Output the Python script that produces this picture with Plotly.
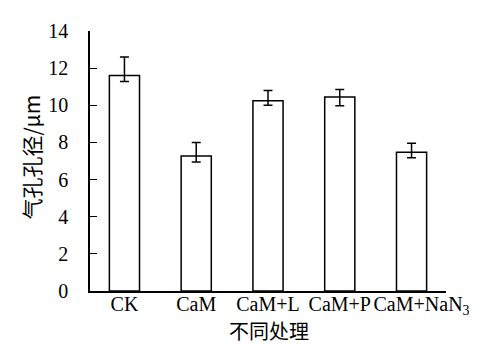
import plotly.graph_objects as go

nb = "&nbsp;" * 4
categories = ["CK", "CaM", "CaM+L", "CaM+P", nb + "CaM+NaN<sub>3</sub>"]
values = [11.6, 7.27, 10.25, 10.45, 7.47]
err_plus = [1.0, 0.72, 0.55, 0.4, 0.48]
err_minus = [0.32, 0.32, 0.25, 0.48, 0.3]
y_ticks = [0, 2, 4, 6, 8, 10, 12, 14]

W, H = 477, 344
L, R, T, B = 82, 39, 14, 61
pw, ph = W - L - R, H - T - B

serif = "Liberation Serif, Times New Roman, serif"
cjk = "Noto Sans CJK SC, sans-serif"

fig = go.Figure(go.Bar(
    x=list(range(len(categories))), y=values, width=0.42,
    marker=dict(color="white", line=dict(color="black", width=1.5)),
    error_y=dict(type="data", symmetric=False, array=err_plus, arrayminus=err_minus,
                 color="black", thickness=1.5, width=4.5),
))

fig.update_layout(
    width=W, height=H, margin=dict(l=L, r=R, t=T, b=B),
    paper_bgcolor="white", plot_bgcolor="white", showlegend=False,
    xaxis=dict(range=[-0.48, 4.48], tickvals=list(range(len(categories))), ticktext=categories,
               showline=True, linecolor="black", linewidth=1.5, ticks="", showgrid=False,
               zeroline=False, ticklabelstandoff=-6, tickangle=0,
               tickfont=dict(family=serif, size=20, color="black")),
    yaxis=dict(range=[0, 14], tickvals=y_ticks, showline=True, linecolor="black", linewidth=1.5,
               ticks="inside", ticklen=7, tickwidth=1.2, tickcolor="black", showgrid=False,
               zeroline=False, ticklabelstandoff=16,
               tickfont=dict(family=serif, size=20, color="black")),
    annotations=[
        dict(text="不同处理", xref="paper", yref="paper",
             x=(261 - L) / pw, y=(283 - 324) / ph, xanchor="center", yanchor="middle",
             showarrow=False, font=dict(family=cjk, size=20, color="black")),
        dict(text="气孔孔径/μm", xref="paper", yref="paper",
             x=(23 - L) / pw, y=(283 - 145) / ph, xanchor="center", yanchor="middle",
             textangle=-90, showarrow=False, font=dict(family=cjk, size=21, color="black")),
    ],
)

fig.write_html("out.html")
